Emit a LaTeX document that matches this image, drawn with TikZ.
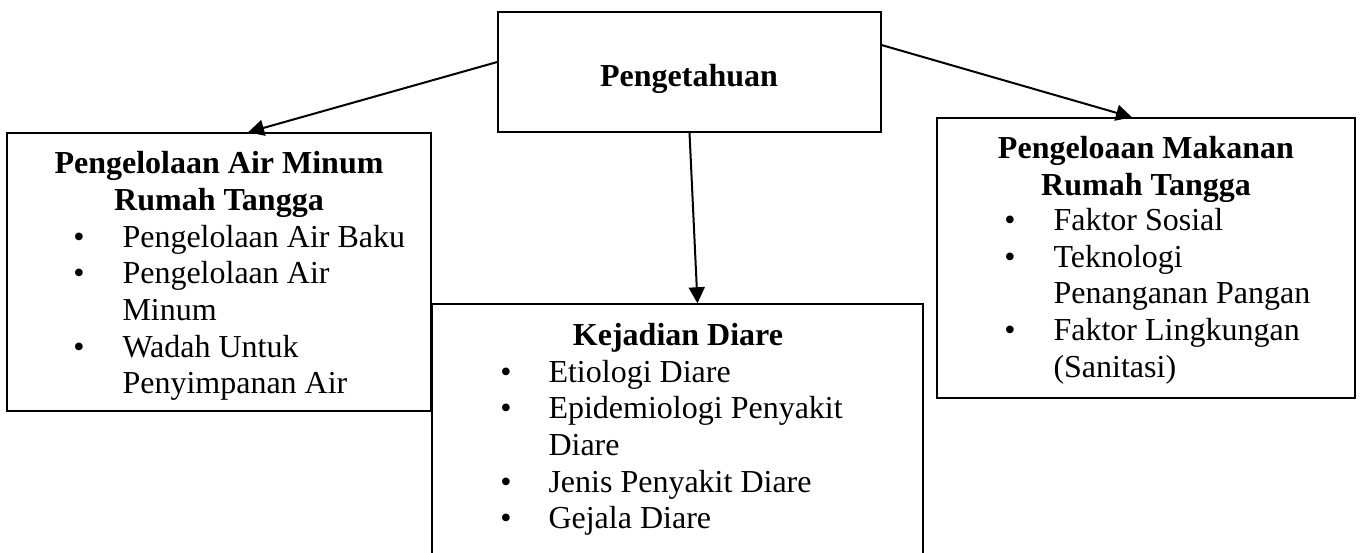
\documentclass[tikz,border=0pt]{standalone}
\usepackage{fontspec}
\setmainfont{Liberation Serif}
\usetikzlibrary{arrows.meta}
\begin{document}
\begin{tikzpicture}[x=0.375pt,y=-0.375pt,
  box/.style={draw, line width=0.55pt, rectangle, inner sep=0pt},
  txt/.style={anchor=base west, inner sep=0pt, font=\fontsize{12}{13.8}\selectfont},
  head/.style={anchor=base, inner sep=0pt, font=\fontsize{12}{13.8}\selectfont\bfseries},
  blt/.style={anchor=base, inner sep=0pt, font=\fontsize{12}{13.8}\selectfont},
  conn/.style={line width=0.75pt, -{Triangle[length=6pt,width=6pt]}}]
\useasboundingbox (0,0) rectangle (1364,552);
\clip (0,0) rectangle (1364,552);

% boxes
\node[box, minimum width=143.625pt, minimum height=45pt] (top) at (689.5,72) {};
\node[box, minimum width=159pt, minimum height=104.25pt] (left) at (219,272) {};
\node[box, minimum width=184.125pt, minimum height=99.75pt] (mid) at (677.5,437) {};
\node[box, minimum width=156.75pt, minimum height=105pt] (right) at (1146,258) {};

% connectors
\draw[conn] ([yshift=3.75pt]top.west) -- ([xshift=10.9pt]left.north);
\draw[conn] (top.south) -- ([xshift=7.5pt]mid.north);
\draw[conn] ([yshift=10.1pt]top.east) -- ([xshift=-5.25pt]right.north);

% top text
\node[head] (t0) at (689,86) {Pengetahuan};

% left box text
\node[head] (l1) at (219,173) {Pengelolaan Air Minum};
\node[head] (l2) at (219,210) {Rumah Tangga};
\node[blt] (lb1) at (79,247) {•};
\node[txt] (lt1) at (122,247) {Pengelolaan Air Baku};
\node[blt] (lb2) at (79,283) {•};
\node[txt] (lt2) at (122,283) {Pengelolaan Air};
\node[txt] (lt3) at (122,320) {Minum};
\node[blt] (lb3) at (79,357) {•};
\node[txt] (lt4) at (122,357) {Wadah Untuk};
\node[txt] (lt5) at (122,393) {Penyimpanan Air};

% middle box text
\node[head] (m1) at (678,345) {Kejadian Diare};
\node[blt] (mb1) at (506,382) {•};
\node[txt] (mt1) at (548,382) {Etiologi Diare};
\node[blt] (mb2) at (506,418) {•};
\node[txt] (mt2) at (548,418) {Epidemiologi Penyakit};
\node[txt] (mt3) at (548,455) {Diare};
\node[blt] (mb3) at (506,492) {•};
\node[txt] (mt4) at (548,492) {Jenis Penyakit Diare};
\node[blt] (mb4) at (506,528) {•};
\node[txt] (mt5) at (548,528) {Gejala Diare};

% right box text
\node[head] (r1) at (1146,158) {Pengeloaan Makanan};
\node[head] (r2) at (1146,195) {Rumah Tangga};
\node[blt] (rb1) at (1010,230) {•};
\node[txt] (rt1) at (1053,230) {Faktor Sosial};
\node[blt] (rb2) at (1010,267) {•};
\node[txt] (rt2) at (1053,267) {Teknologi};
\node[txt] (rt3) at (1053,303) {Penanganan Pangan};
\node[blt] (rb3) at (1010,340) {•};
\node[txt] (rt4) at (1053,340) {Faktor Lingkungan};
\node[txt] (rt5) at (1053,377) {(Sanitasi)};
\end{tikzpicture}
\end{document}
